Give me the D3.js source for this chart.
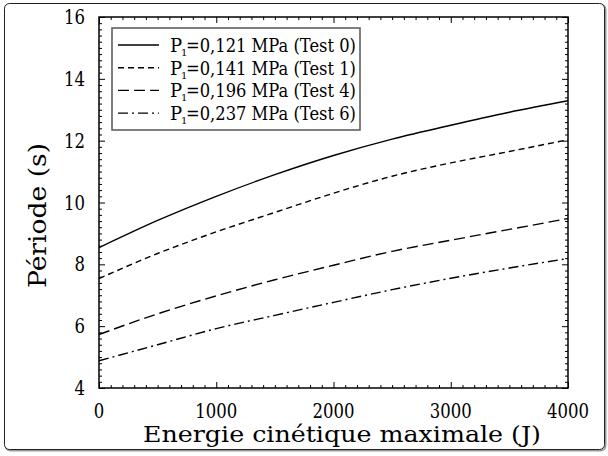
<!DOCTYPE html>
<html>
<head>
<meta charset="utf-8">
<script src="https://cdn.jsdelivr.net/npm/d3@7"></script>
<style>
  body { margin: 0; background: #fff; }
  svg text { font-family: "DejaVu Serif", serif; fill: #000; }
</style>
</head>
<body>
<svg id="chart" width="608" height="456"></svg>
<script>
// energie cinetique (J)
var energie = [0, 500, 1000, 1500, 2000, 2500, 3000, 3500, 4000];

var test0 = [8.54, 9.42, 10.2, 10.9, 11.52, 12.05, 12.5, 12.92, 13.29];
var test1 = [7.54, 8.35, 9.05, 9.68, 10.3, 10.85, 11.28, 11.65, 12.03];
var test4 = [5.73, 6.4, 6.98, 7.5, 7.97, 8.42, 8.78, 9.13, 9.48];
var test6 = [4.88, 5.4, 5.92, 6.35, 6.77, 7.18, 7.55, 7.88, 8.19];

var pressions = ["0,121", "0,141", "0,196", "0,237"];
var tests = ["Test 0", "Test 1", "Test 4", "Test 6"];
var dashes = ["none", "6,4", "11,5", "10,4,2,4"];

var series = [test0, test1, test4, test6].map(function (v, i) {
  return {
    p: pressions[i], test: tests[i], dash: dashes[i],
    values: v.map(function (d, j) { return { e: energie[j], t: d }; })
  };
});

var svg = d3.select("#chart"),
    margin = { top: 17, right: 40, bottom: 68, left: 99 },
    width = +svg.attr("width") - margin.left - margin.right,
    height = +svg.attr("height") - margin.top - margin.bottom;

// cadre exterieur arrondi avec ombre
svg.append("rect")
    .attr("x", 5.5).attr("y", 4.5).attr("width", 600).attr("height", 446)
    .attr("rx", 5).attr("fill", "none").attr("stroke", "#999").attr("stroke-width", 2);
svg.append("rect")
    .attr("x", 4.5).attr("y", 3.5).attr("width", 600).attr("height", 446)
    .attr("rx", 5).attr("fill", "#fff").attr("stroke", "#222").attr("stroke-width", 1);

var g = svg.append("g").attr("transform", "translate(" + margin.left + "," + margin.top + ")");

var x = d3.scaleLinear().domain([0, 4000]).range([0, width]);
var y = d3.scaleLinear().domain([4, 16]).range([height, 0]);

function ticks(axis, minor, major) {
  return function (sel) {
    sel.call(axis.tickValues(minor).tickSize(3).tickFormat(""));
    sel.selectAll(".tick line").each(function (d) {
      var isMajor = major.indexOf(Math.round(d * 10) / 10) >= 0;
      if (isMajor) {
        var l = d3.select(this);
        ["x2", "y2"].forEach(function (a) {
          var v = +l.attr(a);
          if (v) l.attr(a, v * 2);
        });
      }
    });
    sel.select(".domain").remove();
  };
}

var xMinor = d3.range(0, 4001, 100),
    xMajor = [0, 1000, 2000, 3000, 4000],
    yMinor = d3.range(40, 161, 2).map(function (d) { return d / 10; }),
    yMajor = [4, 6, 8, 10, 12, 14, 16];

g.append("g").attr("transform", "translate(0," + height + ")")
    .call(ticks(d3.axisTop(x), xMinor, xMajor));
g.append("g")
    .call(ticks(d3.axisBottom(x), xMinor, xMajor));
g.append("g")
    .call(ticks(d3.axisRight(y), yMinor, yMajor));
g.append("g").attr("transform", "translate(" + width + ",0)")
    .call(ticks(d3.axisLeft(y), yMinor, yMajor));
g.selectAll(".tick line").attr("stroke", "#000");

// cadre du graphe
g.append("rect")
    .attr("width", width).attr("height", height)
    .attr("fill", "none").attr("stroke", "#000").attr("stroke-width", 1.5);

// etiquettes des graduations
g.selectAll(".xlab").data(xMajor).enter().append("text")
    .attr("x", function (d) { return x(d); })
    .attr("y", height + 30)
    .attr("text-anchor", "middle")
    .attr("textLength", function (d) { return String(d).length * 10.5; })
    .attr("lengthAdjust", "spacingAndGlyphs")
    .style("font-size", "20px")
    .text(function (d) { return d; });

g.selectAll(".ylab").data(yMajor).enter().append("text")
    .attr("x", -14)
    .attr("y", function (d) { return y(d) + 7; })
    .attr("text-anchor", "end")
    .attr("textLength", function (d) { return String(d).length * 10.5; })
    .attr("lengthAdjust", "spacingAndGlyphs")
    .style("font-size", "20px")
    .text(function (d) { return d; });

// courbes
var line = d3.line()
    .x(function (d) { return x(d.e); })
    .y(function (d) { return y(d.t); })
    .curve(d3.curveMonotoneX);

g.selectAll(".serie").data(series).enter().append("path")
    .attr("fill", "none")
    .attr("stroke", "#000")
    .attr("stroke-width", 1.4)
    .attr("stroke-dasharray", function (d) { return d.dash; })
    .attr("d", function (d) { return line(d.values); });

// titres des axes
svg.append("text")
    .attr("x", 143)
    .attr("y", 442)
    .attr("textLength", 398)
    .attr("lengthAdjust", "spacingAndGlyphs")
    .style("font-size", "23px")
    .text("Energie cinétique maximale (J)");

svg.append("text")
    .attr("transform", "translate(46,288) rotate(-90)")
    .attr("textLength", 145)
    .attr("lengthAdjust", "spacingAndGlyphs")
    .style("font-size", "25px")
    .text("Période (s)");

// legende
var leg = svg.append("g").attr("transform", "translate(112,28)");
leg.append("rect")
    .attr("width", 248).attr("height", 102)
    .attr("fill", "#fff").attr("stroke", "#555").attr("stroke-width", 1.5);

var item = leg.selectAll(".item").data(series).enter().append("g")
    .attr("transform", function (d, i) { return "translate(0," + (17 + i * 22.7) + ")"; });

item.append("line")
    .attr("x1", 6).attr("x2", 47)
    .attr("stroke", "#000").attr("stroke-width", 1.4)
    .attr("stroke-dasharray", function (d) { return d.dash; });

item.append("text")
    .attr("x", 58).attr("y", 7)
    .style("font-size", "18px")
    .text("P");
item.append("text")
    .attr("x", 69).attr("y", 11)
    .style("font-size", "10px")
    .text("1");
item.append("text")
    .attr("x", 74).attr("y", 7)
    .attr("textLength", 170)
    .attr("lengthAdjust", "spacingAndGlyphs")
    .style("font-size", "18px")
    .text(function (d) { return "=" + d.p + " MPa (" + d.test + ")"; });
</script>
</body>
</html>
